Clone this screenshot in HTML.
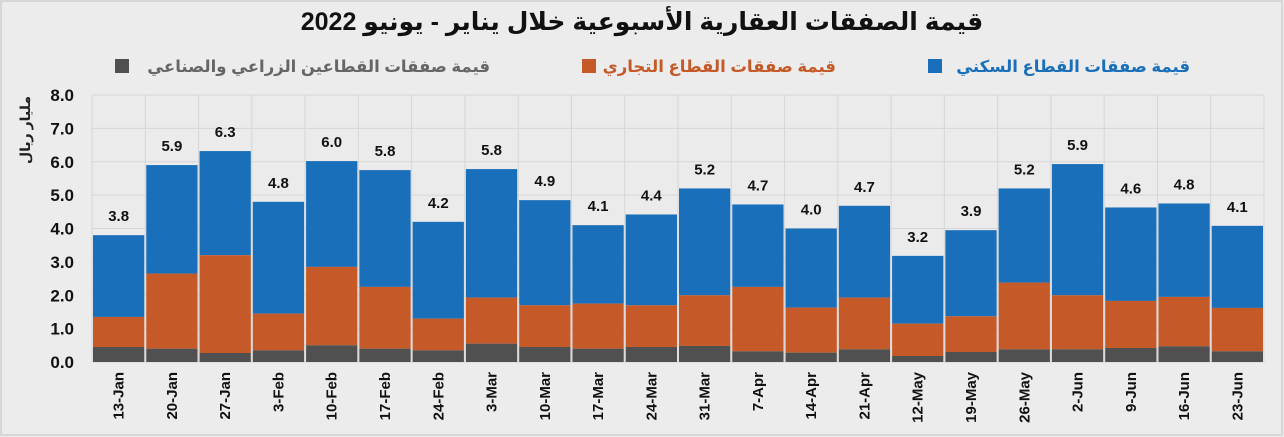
<!DOCTYPE html>
<html><head><meta charset="utf-8"><style>
html,body{margin:0;padding:0;background:#fff;}
svg{display:block;font-family:"Liberation Sans","DejaVu Sans",sans-serif;}
</style></head><body>
<svg width="1284" height="437" viewBox="0 0 1284 437">
<rect x="0" y="0" width="1284" height="437" fill="#ececec"/>
<rect x="1" y="1" width="1281" height="434" fill="none" stroke="#d0d0d0" stroke-width="1.5"/>
<text x="642" y="30" text-anchor="middle" font-size="25" font-weight="bold" fill="#111">قيمة الصفقات العقارية الأسبوعية خلال يناير - يونيو 2022</text>
<rect x="928" y="59" width="14" height="14" fill="#1a6fba"/>
<text x="1190" y="72" text-anchor="end" font-size="16.5" font-weight="bold" fill="#1a6fba">قيمة صفقات القطاع السكني</text>
<rect x="582" y="59" width="14" height="14" fill="#c55a28"/>
<text x="836" y="72" text-anchor="end" font-size="16.5" font-weight="bold" fill="#c55a28">قيمة صفقات القطاع التجاري</text>
<rect x="115" y="59" width="14" height="14" fill="#505050"/>
<text x="490" y="72" text-anchor="end" font-size="16.5" font-weight="bold" fill="#666">قيمة صفقات القطاعين الزراعي والصناعي</text>
<text transform="translate(30,130) rotate(-90)" text-anchor="middle" font-size="14" font-weight="bold" fill="#222">مليار ريال</text>
<g id="plot"></g>
</svg>
<script>
var d=[["13-Jan",0.45,1.35,3.8],["20-Jan",0.4,2.65,5.9],["27-Jan",0.27,3.2,6.32],["3-Feb",0.35,1.45,4.8],["10-Feb",0.5,2.85,6.02],["17-Feb",0.4,2.25,5.75],["24-Feb",0.35,1.3,4.2],["3-Mar",0.55,1.93,5.78],["10-Mar",0.45,1.7,4.85],["17-Mar",0.4,1.75,4.1],["24-Mar",0.45,1.7,4.42],["31-Mar",0.48,2.0,5.2],["7-Apr",0.32,2.25,4.72],["14-Apr",0.28,1.63,4.0],["21-Apr",0.38,1.93,4.68],["12-May",0.18,1.15,3.18],["19-May",0.3,1.37,3.95],["26-May",0.38,2.38,5.2],["2-Jun",0.38,2.0,5.93],["9-Jun",0.42,1.83,4.63],["16-Jun",0.47,1.95,4.75],["23-Jun",0.32,1.62,4.08]];
var labs=["3.8","5.9","6.3","4.8","6.0","5.8","4.2","5.8","4.9","4.1","4.4","5.2","4.7","4.0","4.7","3.2","3.9","5.2","5.9","4.6","4.8","4.1"];
var x0=92,x1=1264,y0=362,s=33.375,w=(x1-x0)/22,h='';
h+='<rect x="'+x0+'" y="95" width="'+(x1-x0)+'" height="267" fill="#ebebeb"/>';
for(var i=0;i<=8;i++){var y=y0-i*s;h+='<line x1="'+x0+'" x2="'+x1+'" y1="'+y+'" y2="'+y+'" stroke="#d6d6d6" stroke-width="1"/>';
h+='<text x="74" y="'+(y+6)+'" text-anchor="end" font-size="17" font-weight="bold" fill="#111">'+i+'.0</text>';}
for(var i=0;i<=22;i++){var x=x0+i*w;h+='<line x1="'+x+'" x2="'+x+'" y1="95" y2="'+y0+'" stroke="#d6d6d6" stroke-width="1"/>';}
d.forEach(function(r,i){var x=x0+i*w+1,bw=w-2;
var yg=y0-r[1]*s,yo=y0-r[2]*s,yt=y0-r[3]*s;
h+='<rect x="'+x+'" y="'+yt+'" width="'+bw+'" height="'+(yo-yt)+'" fill="#1a6fba"/>';
h+='<rect x="'+x+'" y="'+yo+'" width="'+bw+'" height="'+(yg-yo)+'" fill="#c55a28"/>';
h+='<rect x="'+x+'" y="'+yg+'" width="'+bw+'" height="'+(y0-yg)+'" fill="#505050"/>';
var cx=x0+(i+0.5)*w;
h+='<text x="'+cx+'" y="'+(yt-14)+'" text-anchor="middle" font-size="15" font-weight="bold" fill="#111">'+labs[i]+'</text>';
h+='<text transform="translate('+(cx+5)+',372) rotate(-90)" text-anchor="end" font-size="15" font-weight="bold" fill="#111">'+r[0]+'</text>';
});
document.getElementById('plot').innerHTML=h;
</script>
</body></html>
